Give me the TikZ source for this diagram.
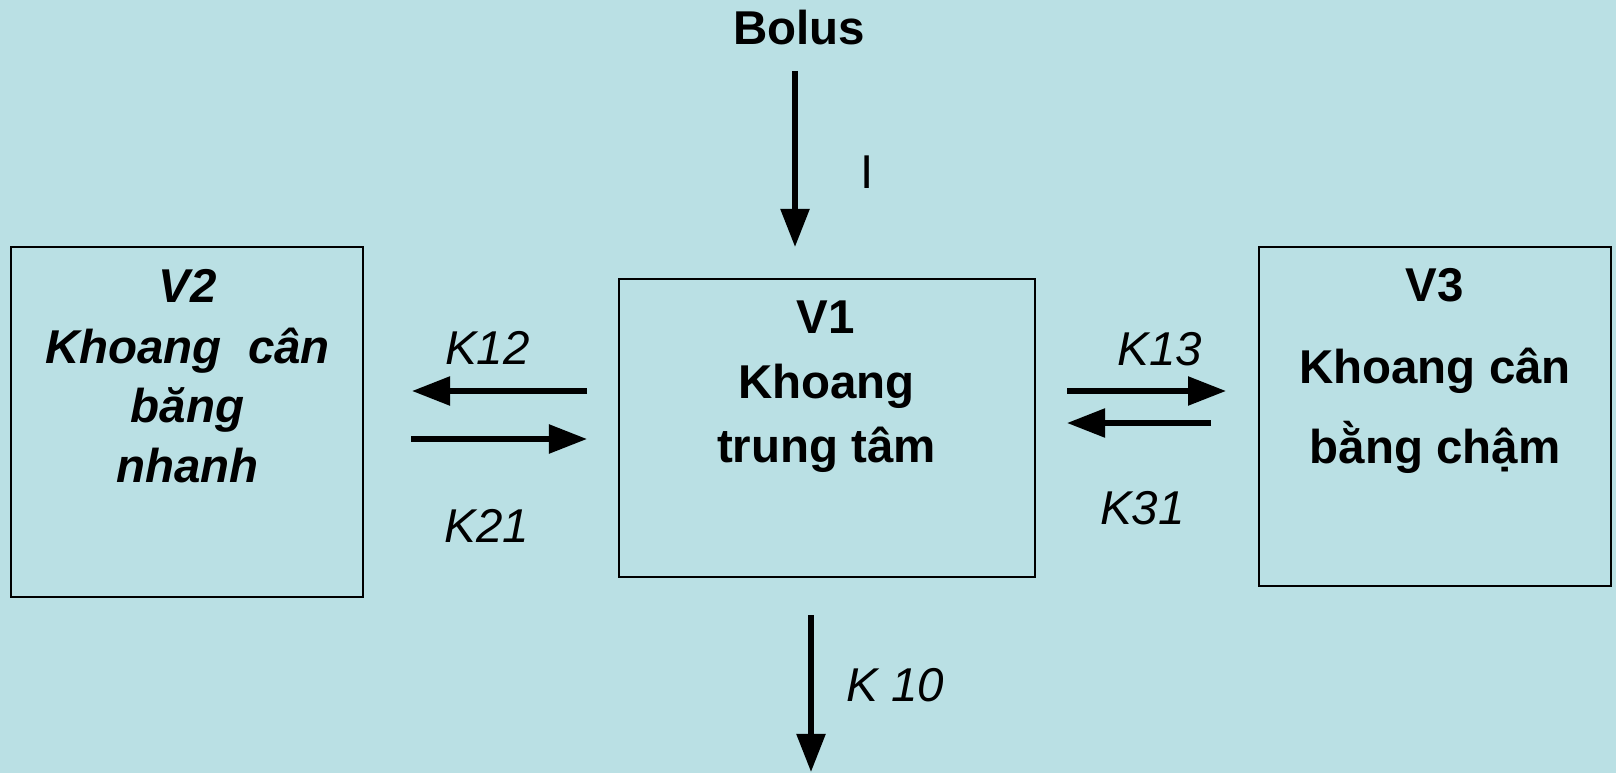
\documentclass[tikz,border=0pt]{standalone}
\usepackage{fontspec}
\setmainfont{Liberation Sans}
\usetikzlibrary{arrows.meta}
\definecolor{bgc}{RGB}{186,224,228}
\tikzset{
  box/.style={draw=black, line width=0.7pt, minimum width=#1, inner sep=0pt},
  lbl/.style={anchor=base, inner sep=0pt, font=\fontsize{13.5}{16}\selectfont},
  blbl/.style={lbl, font=\fontsize{13.5}{16}\selectfont\bfseries},
  bilbl/.style={lbl, font=\fontsize{13.5}{16}\selectfont\bfseries\itshape},
  ilbl/.style={lbl, font=\fontsize{13.5}{16}\selectfont\itshape},
  flow/.style={line width=1.55pt, -{Triangle[length=0.38cm, width=0.28cm]}}
}
\begin{document}
\begin{tikzpicture}[x=0.01cm, y=-0.01cm]
\fill[bgc] (0,0) rectangle (1616,773);
\useasboundingbox (0,0) rectangle (1616,773);

% boxes
\node[box=3.52cm, minimum height=3.50cm] (v2) at (187,422) {};
\node[box=4.16cm, minimum height=2.98cm] (v1) at (827,428) {};
\node[box=3.52cm, minimum height=3.39cm] (v3) at (1435,416.5) {};

% box texts
\node[bilbl] (v2a) at (188,302) {V2};
\node[bilbl] (v2b) at (187.5,363) {Khoang~ cân};
\node[bilbl] (v2c) at (187.5,422) {băng};
\node[bilbl] (v2d) at (187.5,482) {nhanh};

\node[blbl] (v1a) at (826,333) {V1};
\node[blbl] (v1b) at (826.5,398) {Khoang};
\node[blbl] (v1c) at (826.5,462) {trung tâm};

\node[blbl] (v3a) at (1435,301.7) {V3};
\node[blbl] (v3b) at (1435,383) {Khoang cân};
\node[blbl] (v3c) at (1435,463) {bằng chậm};

% labels
\node[blbl] (bolus) at (799,45) {Bolus};
\node[lbl] (ilab) at (867,189) {I};
\node[ilbl] (k12) at (487.5,364) {K12};
\node[ilbl] (k21) at (487,542) {K21};
\node[ilbl] (k13) at (1160,365) {K13};
\node[ilbl] (k31) at (1142.5,524) {K31};
\node[ilbl] (k10) at (895,701) {K 10};

% connector end points
\coordinate (bs) at (795,71);
\coordinate (be) at (795,247);
\coordinate (a12s) at (587,391);
\coordinate (a12e) at (412,391);
\coordinate (a21s) at (411,439);
\coordinate (a21e) at (587,439);
\coordinate (a13s) at (1067,391);
\coordinate (a13e) at (1226,391);
\coordinate (a31s) at (1211,423);
\coordinate (a31e) at (1067,423);
\coordinate (a10s) at (811,615);
\coordinate (a10e) at (811,772);

\draw[flow] (bs) -- (be);
\draw[flow] (a12s) -- (a12e);
\draw[flow] (a21s) -- (a21e);
\draw[flow] (a13s) -- (a13e);
\draw[flow] (a31s) -- (a31e);
\draw[flow] (a10s) -- (a10e);
\end{tikzpicture}
\end{document}
